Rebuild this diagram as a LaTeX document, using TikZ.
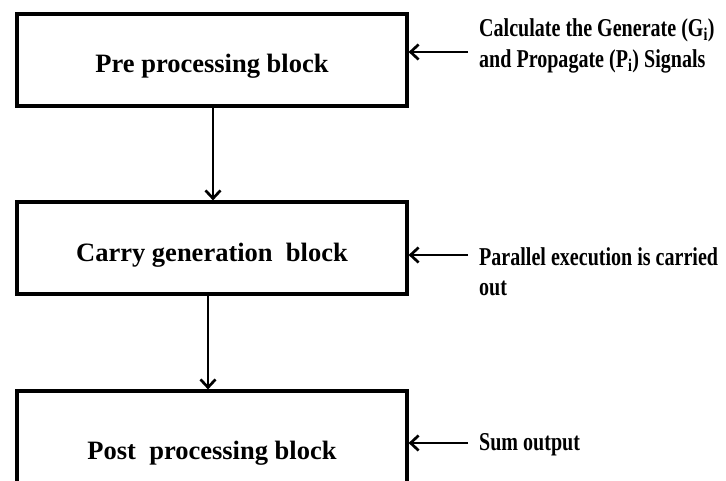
\documentclass[tikz,border=0pt]{standalone}
\usepackage{fontspec}
\setmainfont{Liberation Serif}
\newfontfamily\labfont[FakeStretch=0.78]{Liberation Serif}
\usetikzlibrary{arrows.meta}
\tikzset{
  blockbox/.style={draw=black, line width=3.2pt, minimum width=390pt, minimum height=92pt, inner sep=0pt},
  blocktext/.style={anchor=base, inner sep=0pt, font=\fontsize{26.5}{30}\selectfont\bfseries},
  labtext/.style={anchor=base west, inner sep=0pt, align=left, font=\labfont\fontsize{25.7}{31}\selectfont\bfseries},
  arr/.style={line width=2.7pt, -{Straight Barb[length=8pt,width=15pt,line width=2.7pt]}}
}
\begin{document}
\begin{tikzpicture}[x=1pt,y=-1pt]
\clip (0,0) rectangle (726,481);
\fill[white] (0,0) rectangle (726,481);
% boxes
\node[blockbox] (b1) at (212,60) {};
\node[blockbox] (b2) at (212,248) {};
\node[blockbox] (b3) at (212,437) {};
% box texts
\node[blocktext] (t1) at (212,73) {Pre processing block};
\node[blocktext] (t2) at (212,262) {Carry generation~ block};
\node[blocktext] (t3) at (212,459) {Post~ processing block};
% side labels (base = last line)
\node[labtext] (l1) at (479,68) {Calculate the Generate (G\textsubscript{i})\\and Propagate (P\textsubscript{i}) Signals};
\node[labtext] (l2) at (479,296) {Parallel execution is carried\\out};
\node[labtext] (l3) at (479,450) {Sum output};
% arrow starts
\coordinate (a1) at (468,52);
\coordinate (a2) at (468,255);
\coordinate (a3) at (468,443);
\draw[arr] (a1) -- (a1 -| b1.east);
\draw[arr] (a2) -- (a2 -| b2.east);
\draw[arr] (a3) -- (a3 -| b3.east);
% vertical arrows
\draw[arr] ([xshift=1pt]b1.south) -- ([xshift=1pt]b2.north);
\draw[arr] ([xshift=-4pt]b2.south) -- ([xshift=-4pt]b3.north);
\end{tikzpicture}
\end{document}
